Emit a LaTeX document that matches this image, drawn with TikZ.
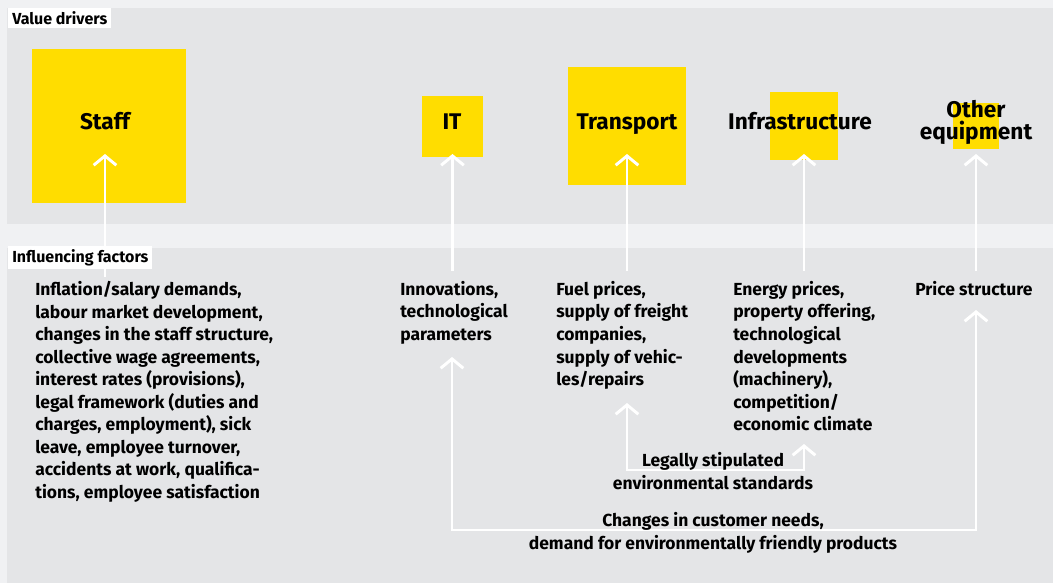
\documentclass[tikz,border=0pt]{standalone}
\usepackage{fontspec}
\setmainfont{Fira Sans}
\usetikzlibrary{positioning,arrows.meta}
\definecolor{pageF}{HTML}{F0F1F3}
\definecolor{panelF}{HTML}{E4E5E7}
\definecolor{driverF}{HTML}{FFDD00}
\tikzset{
 panel/.style={fill=panelF, draw=none},
 tag/.style={fill=white, anchor=north west, inner xsep=3pt, inner ysep=2.5pt, font=\bfseries\fontsize{12}{13}\selectfont},
 driver/.style={fill=driverF, draw=none, inner sep=0pt},
 head/.style={align=center, inner sep=0pt, font=\bfseries\fontsize{17}{16.5}\selectfont},
 factor/.style={align=left, anchor=north west, inner sep=0pt, font=\bfseries\fontsize{13.1}{16.9}\selectfont},
 note/.style={align=center, inner sep=0pt, font=\bfseries\fontsize{13.1}{16.9}\selectfont},
 arr/.style={-{Straight Barb[length=7pt,width=17pt]}, line width=2.2pt, draw=white},
 dbl/.style={{Straight Barb[length=7pt,width=17pt]}-{Straight Barb[length=7pt,width=17pt]}, line width=2.2pt, draw=white},
}
\begin{document}
\begin{tikzpicture}[x=0.75pt,y=-0.75pt]
% background and panels
\fill[pageF] (0,0) rectangle (1053,583);
\fill[panel] (7,8) rectangle (1053,224);
\fill[panel] (7,248) rectangle (1053,583);
% value drivers
\node[driver, minimum size=115.5pt] (staff) at (109,126) {};
\node[driver, minimum size=45.75pt] (it) at (452.5,126.5) {};
\node[driver, minimum size=88.5pt] (transport) at (627,126) {};
\node[driver, minimum size=51pt] (infra) at (804,126) {};
\node[driver, minimum size=34.5pt] (other) at (976,126) {};
\node[head, anchor=base] (hStaff) at (105,129) {Staff};
\node[head, anchor=base] (hIT) at (452,129) {IT};
\node[head, anchor=base] (hTrans) at (627,129) {Transport};
\node[head, anchor=base] (hInfra) at (800,129) {Infrastructure};
\node[head] (hOther) at (976,122) {Other\\equipment};
% influencing factors
\node[factor] (fStaff) at (35,281) {Inflation/salary demands,\\labour market development,\\changes in the staff structure,\\collective wage agreements,\\interest rates (provisions),\\legal framework (duties and\\charges, employment), sick\\leave, employee turnover,\\accidents at work, qualifica-\\tions, employee satisfaction};
\node[factor] (fIT) at (400,281) {Innovations,\\technological\\parameters};
\node[factor] (fTrans) at (556,281) {Fuel prices,\\supply of freight\\companies,\\supply of vehic-\\les/repairs};
\node[factor] (fInfra) at (733,281) {Energy prices,\\property offering,\\technological\\developments\\(machinery),\\competition/\\economic climate};
\node[factor] (fOther) at (915,281) {Price structure};
% arrows up to the drivers
\coordinate (foot) at (0,271);
\coordinate (tip) at (0,154);
\draw[arr] (hStaff |- 0,277) -- (hStaff |- tip);
\draw[arr] (it |- foot) -- (it |- tip);
\draw[arr] (transport |- foot) -- (transport |- tip);
\draw[arr] (infra |- foot) -- (infra |- tip);
\draw[arr] (other |- foot) -- (other |- tip);
% section tags
\node[tag] (vd) at (8,8) {Value drivers};
\node[tag] (inf) at (8,246) {Influencing factors};
% shared factors
\coordinate (legT) at (627,403);
\coordinate (legL) at (627,470);
\coordinate (legR) at (804,470);
\coordinate (legI) at (804,444);
\draw[dbl] (legT) -- (legL) -- (legR) -- (legI);
\coordinate (cusT) at (452,357);
\coordinate (cusL) at (452,530);
\coordinate (cusR) at (976,530);
\coordinate (cusO) at (976,310);
\draw[dbl] (cusT) -- (cusL) -- (cusR) -- (cusO);
\node[note] (legal) at (713,471) {Legally stipulated\\environmental standards};
\node[note] (cust) at (713,533) {Changes in customer needs,\\demand for environmentally friendly products};
\end{tikzpicture}
\end{document}
